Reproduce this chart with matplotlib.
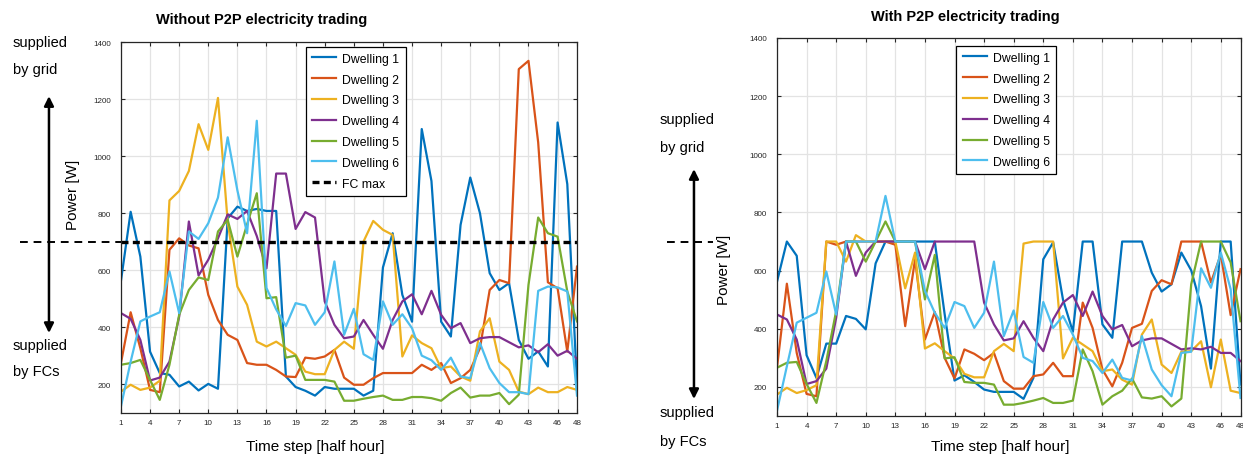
import numpy as np
import matplotlib.pyplot as plt

plt.rcParams['font.family'] = ['Liberation Sans', 'DejaVu Sans']

# time steps (half hours)
steps = np.arange(1, 49)
labels = ['Dwelling 1', 'Dwelling 2', 'Dwelling 3', 'Dwelling 4', 'Dwelling 5', 'Dwelling 6']
colors = ['#0072BD', '#D95319', '#EDB120', '#7E2F8E', '#77AC30', '#4DBEEE']
fc_max = 700

# power per dwelling without P2P trading [W]
d1_without = [563, 805, 648, 315, 240, 234, 193, 210, 179, 202, 185, 782, 823, 808, 815, 808,
              808, 228, 191, 178, 161, 191, 185, 185, 185, 161, 178, 610, 730, 514, 420, 1095,
              913, 420, 368, 759, 925, 800, 590, 531, 555, 356, 290, 316, 263, 1118, 902, 200]
d2_without = [275, 453, 327, 181, 173, 672, 712, 687, 677, 514, 426, 374, 356, 275, 269, 269,
              251, 228, 226, 294, 290, 298, 321, 224, 199, 199, 222, 240, 240, 240, 240, 269,
              251, 275, 205, 222, 251, 327, 531, 566, 555, 1305, 1334, 1048, 558, 537, 315, 613]
d3_without = [175, 199, 181, 189, 213, 845, 878, 948, 1112, 1022, 1204, 770, 543, 479, 350, 333,
              350, 327, 304, 245, 236, 236, 321, 350, 325, 701, 773, 742, 724, 298, 372, 345,
              327, 257, 263, 228, 213, 386, 432, 280, 251, 175, 166, 189, 173, 173, 191, 181]
d4_without = [450, 430, 356, 214, 224, 280, 438, 771, 582, 637, 712, 796, 780, 808, 720, 607,
              939, 939, 745, 804, 785, 491, 409, 362, 368, 426, 374, 325, 426, 491, 516, 446,
              528, 444, 397, 415, 345, 362, 366, 366, 348, 330, 337, 313, 341, 301, 318, 290]
d5_without = [269, 275, 286, 216, 146, 269, 444, 531, 575, 566, 736, 777, 648, 761, 870, 502,
              506, 294, 301, 216, 216, 216, 210, 143, 143, 150, 156, 161, 146, 146, 156, 156,
              152, 143, 170, 189, 154, 161, 161, 170, 131, 164, 549, 785, 730, 718, 526, 421]
d6_without = [123, 280, 421, 438, 453, 596, 450, 736, 710, 765, 855, 1066, 880, 730, 1124, 538,
              463, 405, 485, 477, 409, 453, 631, 374, 465, 306, 286, 491, 409, 446, 397, 301,
              285, 251, 294, 228, 222, 345, 257, 205, 173, 173, 166, 528, 543, 540, 526, 161]

# power per dwelling with P2P trading [W]
d1_with = [562, 700, 651, 309, 231, 349, 349, 444, 434, 398, 625, 700, 700, 700, 700, 700,
           700, 450, 222, 240, 217, 191, 183, 183, 183, 159, 231, 639, 697, 500, 390, 700,
           700, 415, 369, 700, 700, 700, 593, 528, 553, 662, 601, 478, 263, 700, 700, 208]
d2_with = [266, 555, 317, 176, 168, 700, 689, 700, 700, 700, 700, 700, 689, 409, 639, 363,
           458, 300, 229, 329, 314, 292, 317, 220, 194, 194, 237, 243, 283, 237, 237, 490,
           403, 260, 202, 283, 403, 417, 530, 567, 553, 700, 700, 700, 559, 656, 447, 605]
d3_with = [174, 197, 179, 189, 206, 700, 700, 631, 722, 700, 700, 700, 700, 539, 662, 332,
           350, 323, 298, 245, 233, 233, 323, 348, 323, 693, 700, 700, 700, 298, 369, 346,
           323, 254, 260, 225, 208, 380, 432, 277, 248, 321, 323, 357, 199, 363, 187, 179]
d4_with = [449, 432, 363, 210, 220, 263, 438, 700, 582, 662, 700, 700, 700, 700, 700, 605,
           700, 700, 700, 700, 700, 490, 415, 360, 367, 426, 369, 323, 432, 490, 516, 444,
           528, 444, 398, 413, 340, 360, 367, 367, 348, 329, 333, 329, 338, 317, 317, 289]
d5_with = [266, 283, 286, 210, 145, 289, 461, 700, 700, 631, 700, 769, 700, 700, 700, 501,
           654, 298, 302, 217, 214, 214, 208, 139, 139, 145, 153, 162, 145, 145, 153, 329,
           254, 139, 168, 187, 229, 164, 160, 168, 133, 160, 553, 700, 700, 700, 628, 426]
d6_with = [118, 271, 421, 438, 455, 597, 449, 700, 700, 700, 700, 857, 700, 700, 700, 530,
           455, 403, 492, 478, 403, 455, 631, 375, 463, 303, 283, 492, 403, 444, 380, 300,
           289, 248, 294, 231, 222, 375, 260, 206, 168, 317, 321, 608, 541, 662, 536, 162]

without = [d1_without, d2_without, d3_without, d4_without, d5_without, d6_without]
with_p2p = [d1_with, d2_with, d3_with, d4_with, d5_with, d6_with]

xticks = [1, 4, 7, 10, 13, 16, 19, 22, 25, 28, 31, 34, 37, 40, 43, 46, 48]
yticks = [200, 400, 600, 800, 1000, 1200, 1400]

fig = plt.figure(figsize=(12.43, 4.56), dpi=100)
ax1 = fig.add_axes([0.0973, 0.0921, 0.3669, 0.8136])
ax2 = fig.add_axes([0.6251, 0.0855, 0.3729, 0.829])


def style_axes(ax):
    ax.set_xlim(1, 48)
    ax.set_ylim(100, 1400)
    ax.set_xticks(xticks)
    ax.set_yticks(yticks)
    ax.grid(True, color='#e3e3e3', linewidth=0.9)
    ax.set_axisbelow(True)
    ax.tick_params(direction='in', length=3, width=0.8, labelsize=5.8, colors='#262626',
                   top=True, right=True)
    ax.tick_params(axis='y', pad=7)
    ax.tick_params(axis='x', pad=4)
    for s in ax.spines.values():
        s.set_color('#262626')
        s.set_linewidth(0.9)


for ax, series in [(ax1, without), (ax2, with_p2p)]:
    for vals, lab, c in zip(series, labels, colors):
        ax.plot(steps, vals, color=c, linewidth=1.6, label=lab)
    style_axes(ax)

# FC max line on the left plot, continued outside the axes
ax1.plot(steps, [fc_max] * len(steps), 'k--', linewidth=2.4, dashes=(2.1, 1.3), label='FC max')
ax1.plot([-0.222, 0], [fc_max, fc_max], 'k--', linewidth=1.4, dashes=(4, 3),
         transform=ax1.get_yaxis_transform(), clip_on=False)
ax2.plot([-0.237, -0.138], [fc_max, fc_max], 'k--', linewidth=1.4, dashes=(4, 3),
         transform=ax2.get_yaxis_transform(), clip_on=False)

leg_kw = dict(loc='upper left', fontsize=8.8, frameon=True, fancybox=False, edgecolor='black',
              framealpha=1, handlelength=2.0, labelspacing=0.72, borderpad=0.5, handletextpad=0.5)
l1 = ax1.legend(bbox_to_anchor=(0.392, 1.004), **leg_kw)
l2 = ax2.legend(bbox_to_anchor=(0.374, 0.996), **leg_kw)
for leg in (l1, l2):
    leg.get_frame().set_linewidth(0.9)

# titles and axis labels
fig.text(0.2108, 0.956, 'Without P2P electricity trading', ha='center', va='center',
         fontsize=10.5, fontweight='bold')
fig.text(0.777, 0.963, 'With P2P electricity trading', ha='center', va='center',
         fontsize=10.5, fontweight='bold')
fig.text(0.254, 0.02, 'Time step [half hour]', ha='center', va='center', fontsize=11)
fig.text(0.805, 0.02, 'Time step [half hour]', ha='center', va='center', fontsize=11)
fig.text(0.0587, 0.572, 'Power [W]', rotation=90, ha='center', va='center', fontsize=11)
fig.text(0.5825, 0.408, 'Power [W]', rotation=90, ha='center', va='center', fontsize=11)

# supply direction annotations
arrow = dict(arrowstyle='<|-|>', color='black', lw=1.8, mutation_scale=14,
             shrinkA=0, shrinkB=0)
fig.text(0.0105, 0.9057, 'supplied', ha='left', va='center', fontsize=10.5)
fig.text(0.0105, 0.846, 'by grid', ha='left', va='center', fontsize=10.5)
fig.text(0.0105, 0.241, 'supplied', ha='left', va='center', fontsize=10.5)
fig.text(0.0105, 0.184, 'by FCs', ha='left', va='center', fontsize=10.5)
fig.add_artist(plt.matplotlib.patches.FancyArrowPatch((0.0394, 0.2675), (0.0394, 0.787),
                                                      transform=fig.transFigure, **arrow))

fig.text(0.531, 0.737, 'supplied', ha='left', va='center', fontsize=10.5)
fig.text(0.531, 0.675, 'by grid', ha='left', va='center', fontsize=10.5)
fig.text(0.531, 0.094, 'supplied', ha='left', va='center', fontsize=10.5)
fig.text(0.531, 0.031, 'by FCs', ha='left', va='center', fontsize=10.5)
fig.add_artist(plt.matplotlib.patches.FancyArrowPatch((0.5583, 0.1228), (0.5583, 0.627),
                                                      transform=fig.transFigure, **arrow))

fig.savefig('out.png', dpi=100)
